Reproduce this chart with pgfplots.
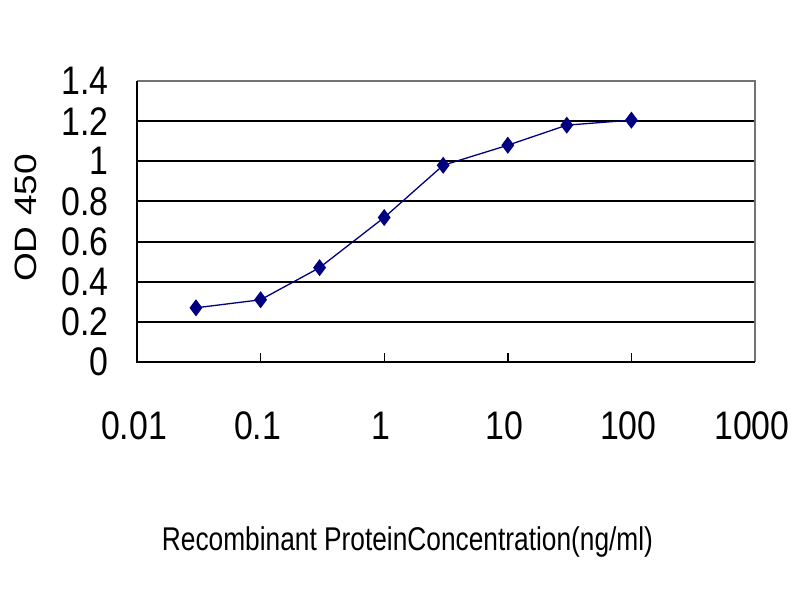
\documentclass[border=0pt]{standalone}
\usepackage{fontspec}
\setmainfont{Liberation Sans}
\newfontfamily\tickfont[FakeStretch=0.85]{Liberation Sans}
\newfontfamily\xlabfont[FakeStretch=0.8]{Liberation Sans}
\newfontfamily\ylabfont[FakeStretch=1.2]{Liberation Sans}
\usepackage{pgfplots}
\pgfplotsset{compat=1.18}
\definecolor{navy}{RGB}{0,0,128}
\begin{document}
\begin{tikzpicture}
\path[use as bounding box, fill=white] (0,0) rectangle (800bp,600bp);
\begin{axis}[
  at={(137bp,238bp)}, anchor=south west,
  scale only axis, width=618bp, height=281bp,
  xmode=log, xmin=0.01, xmax=1000, ymin=0, ymax=1.4,
  xtick={0.01,0.1,1,10,100,1000},
  xticklabels={0.01,0.1,1,10,100,1000},
  ytick={0,0.2,0.4,0.6,0.8,1,1.2,1.4},
  yticklabels={0,0.2,0.4,0.6,0.8,1,1.2,1.4},
  xminorticks=false,
  xtick pos=lower, ytick pos=left,
  ymajorgrids, major grid style={black, line width=2bp},
  axis line style={draw=none},
  major y tick style={draw=none},
  major x tick style={black, line width=1.4bp},
  tick align=inside, major tick length=9bp,
  /pgf/number format/assume math mode=true,
  tick label style={font=\tickfont\fontsize{40}{42}\selectfont, inner sep=0pt},
  xticklabel style={anchor=base, yshift=-77bp, xshift=-3bp},
  yticklabel style={anchor=east, xshift=-28bp},
  xlabel={Recombinant ProteinConcentration(ng/ml)},
  xlabel style={font=\xlabfont\fontsize{33}{35}\selectfont, at={(axis description cs:0.4377,0)}, anchor=base, yshift=-188bp, inner sep=0pt},
  ylabel={OD 450},
  ylabel style={font=\ylabfont\fontsize{31}{33}\selectfont, at={(axis description cs:-0.1796,0.5125)}, anchor=center, inner sep=0pt},
  clip=false,
]
\draw[black!55, line width=1.6bp] (axis cs:0.01,1.4) -- (axis cs:1000,1.4) -- (axis cs:1000,0);
\draw[black, line width=1.8bp] (axis cs:0.01,1.4) -- (axis cs:0.01,0) -- (axis cs:1000,0);
\addplot[navy, line width=1.3bp, mark=diamond*, mark size=7.5bp, mark options={fill=navy, draw=navy}]
  coordinates {(0.03,0.27) (0.1,0.31) (0.3,0.47) (1,0.72) (3,0.98) (10,1.08) (30,1.18) (100,1.205)};
\end{axis}
\end{tikzpicture}
\end{document}
